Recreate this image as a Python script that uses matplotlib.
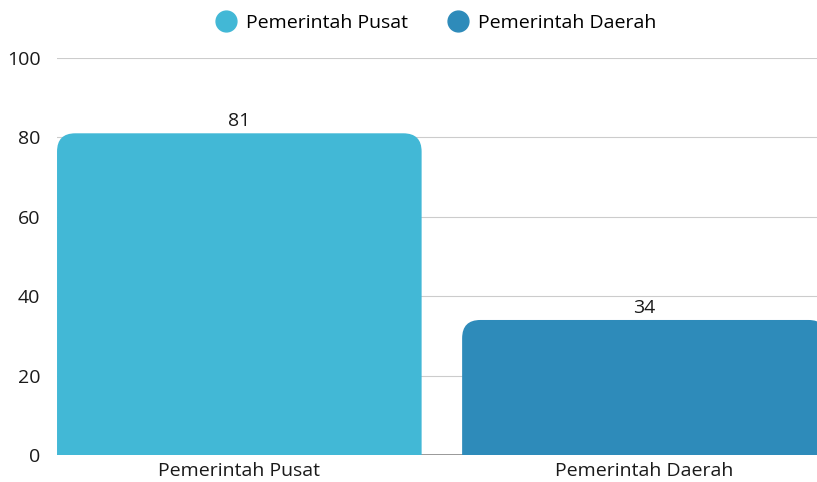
import matplotlib.pyplot as plt
from matplotlib.path import Path
from matplotlib.patches import PathPatch
from matplotlib.lines import Line2D

plt.rcParams['font.family'] = ['Open Sans', 'DejaVu Sans']

categories = ["Pemerintah Pusat", "Pemerintah Daerah"]
values = [81, 34]
colors = ["#42B8D6", "#2E8BBA"]
yticks = [0, 20, 40, 60, 80, 100]


def rounded_top(x0, w, h, rx, ry):
    x1 = x0 + w
    verts = [(x0, 0), (x0, h - ry), (x0, h), (x0 + rx, h),
             (x1 - rx, h), (x1, h), (x1, h - ry), (x1, 0), (x0, 0)]
    codes = [Path.MOVETO, Path.LINETO, Path.CURVE3, Path.CURVE3,
             Path.LINETO, Path.CURVE3, Path.CURVE3, Path.LINETO, Path.CLOSEPOLY]
    return Path(verts, codes)


fig = plt.figure(figsize=(8.17, 4.82), dpi=100)
ax = fig.add_axes([0.0698, 0.056, 0.9302, 0.824])

x = list(range(len(categories)))
bars = ax.bar(x, values, width=0.9, color=colors)
for rect, c in zip(bars, colors):
    rect.set_visible(False)
    p = rounded_top(rect.get_x(), rect.get_width(), rect.get_height(), 0.045, 4.6)
    ax.add_patch(PathPatch(p, facecolor=c, edgecolor="none", zorder=3))

for xi, v in zip(x, values):
    ax.text(xi, v + 0.8, str(v), ha="center", va="bottom", fontsize=14, color="#1a1a1a")

ax.set_xlim(-0.45, 1.426)
ax.set_ylim(0, 100)
ax.set_yticks(yticks)
ax.set_xticks(x)
ax.set_xticklabels(categories)
ax.tick_params(length=0, labelsize=14, colors="#1a1a1a")
ax.tick_params(axis="y", pad=12)
ax.tick_params(axis="x", pad=5)
ax.grid(axis="y", color="#CCCCCC", linewidth=0.8, zorder=0)
ax.axhline(0, color="#888888", linewidth=1.2, zorder=2)
for s in ax.spines.values():
    s.set_visible(False)

handles = [Line2D([], [], marker="o", linestyle="none", markersize=15,
                  markerfacecolor=c, markeredgecolor=c) for c in colors]
fig.legend(handles, categories, loc="center", bbox_to_anchor=(0.528, 0.953),
           ncol=2, frameon=False, fontsize=14, handletextpad=0.0, columnspacing=1.6)

fig.savefig("out.png", dpi=100)
